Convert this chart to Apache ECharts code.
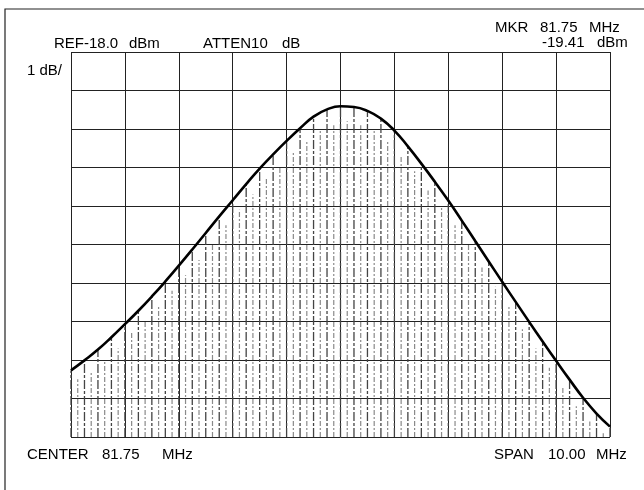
<!DOCTYPE html>
<html>
<head>
<meta charset="utf-8">
<script src="https://cdn.jsdelivr.net/npm/echarts@6/dist/echarts.min.js"></script>
<style>
html,body{margin:0;padding:0;background:#fff;}
#chart{width:644px;height:490px;}
</style>
</head>
<body>
<div id="chart"></div>
<script>
// Frequency offsets from center (MHz), 0.25 MHz apart; center 81.75 MHz, span 10 MHz
var freqOffsets = [-5,-4.75,-4.5,-4.25,-4,-3.75,-3.5,-3.25,-3,-2.75,-2.5,-2.25,-2,-1.75,-1.5,-1.25,-1,-0.75,-0.5,-0.25,0,0.25,0.5,0.75,1,1.25,1.5,1.75,2,2.25,2.5,2.75,3,3.25,3.5,3.75,4,4.25,4.5,4.75,5];
// Envelope / main spectral line levels (dBm)
var envelopeDbm = [-26.27,-26.01,-25.73,-25.41,-25.07,-24.72,-24.35,-23.96,-23.55,-23.13,-22.70,-22.27,-21.85,-21.43,-21.03,-20.66,-20.31,-19.98,-19.68,-19.49,-19.41,-19.43,-19.53,-19.73,-20.04,-20.45,-20.90,-21.37,-21.86,-22.38,-22.91,-23.44,-23.97,-24.49,-25.01,-25.52,-26.02,-26.51,-26.98,-27.39,-27.73];
// In-between (fainter, dashed) spectral lines
var midOffsets = [-4.875,-4.625,-4.375,-4.125,-3.875,-3.625,-3.375,-3.125,-2.875,-2.625,-2.375,-2.125,-1.875,-1.625,-1.375,-1.125,-0.875,-0.625,-0.375,-0.125,0.125,0.375,0.625,0.875,1.125,1.375,1.625,1.875,2.125,2.375,2.625,2.875,3.125,3.375,3.625,3.875,4.125,4.375,4.625,4.875];
var midDbm = [-26.5,-26.3,-26.0,-25.7,-25.3,-25.0,-24.6,-24.2,-23.8,-23.4,-23.0,-22.5,-22.1,-21.7,-21.3,-21.0,-20.6,-20.3,-20.0,-19.9,-19.8,-19.9,-20.0,-20.3,-20.7,-21.1,-21.6,-22.0,-22.5,-23.0,-23.6,-24.1,-24.6,-25.2,-25.7,-26.2,-26.7,-27.2,-27.6,-27.9];
var refLevel = -18, bottomLevel = -28;

var mainData = freqOffsets.map(function(f,i){return [f, envelopeDbm[i]];});
var midData = midOffsets.map(function(f,i){return [f, midDbm[i]];});

function makeRender(color, dash, width){
  return function(params, api){
    var x = api.value(0), v = api.value(1);
    var p0 = api.coord([x, bottomLevel]);
    var p1 = api.coord([x, v]);
    return {type:'line', shape:{x1:p0[0], y1:p0[1], x2:p1[0], y2:p1[1]},
      style:{stroke:color, lineWidth:width, lineDash:dash}};
  };
}

var FONT = '"Liberation Sans", Arial, sans-serif';
function txt(s, x, y, align){
  return {type:'text', x:x, y:y, style:{text:s, x:0, y:0, fill:'#000', font:'15px ' + FONT, textAlign:align||'left', textVerticalAlign:'middle'}};
}

var chart = echarts.init(document.getElementById('chart'), null, {renderer:'canvas'});
chart.setOption({
  animation:false,
  backgroundColor:'#fff',
  grid:{left:71, top:52, width:539, height:385},
  xAxis:{type:'value', min:-5, max:5, interval:1,
    axisLine:{show:false}, axisTick:{show:false}, axisLabel:{show:false},
    splitLine:{show:true, lineStyle:{color:'#222', width:1}}},
  yAxis:{type:'value', min:bottomLevel, max:refLevel, interval:1,
    axisLine:{show:false}, axisTick:{show:false}, axisLabel:{show:false},
    splitLine:{show:true, lineStyle:{color:'#222', width:1}}},
  series:[
    {type:'custom', data:midData, renderItem:makeRender('#8a8a8a',[5,2,2,2],1.2), z:2, silent:true},
    {type:'custom', data:mainData, renderItem:makeRender('#444',[9,2,3,2],1.3), z:3, silent:true},
    {type:'line', data:mainData, smooth:true, symbol:'none', z:5,
      lineStyle:{color:'#000', width:2.6}}
  ],
  graphic:[
    {type:'rect', shape:{x:5, y:9, width:700, height:600}, style:{fill:null, stroke:'#222', lineWidth:1.2}, z:1},
    txt('REF-18.0', 54, 44),
    txt('dBm', 129, 44),
    txt('ATTEN10', 203, 44),
    txt('dB', 282, 44),
    txt('1 dB/', 27, 71),
    txt('MKR', 495, 28),
    txt('81.75', 540, 28),
    txt('MHz', 589, 28),
    txt('-19.41', 542, 43),
    txt('dBm', 597, 43),
    txt('CENTER', 27, 455),
    txt('81.75', 102, 455),
    txt('MHz', 162, 455),
    txt('SPAN', 494, 455),
    txt('10.00', 548, 455),
    txt('MHz', 596, 455)
  ]
});
</script>
</body>
</html>
